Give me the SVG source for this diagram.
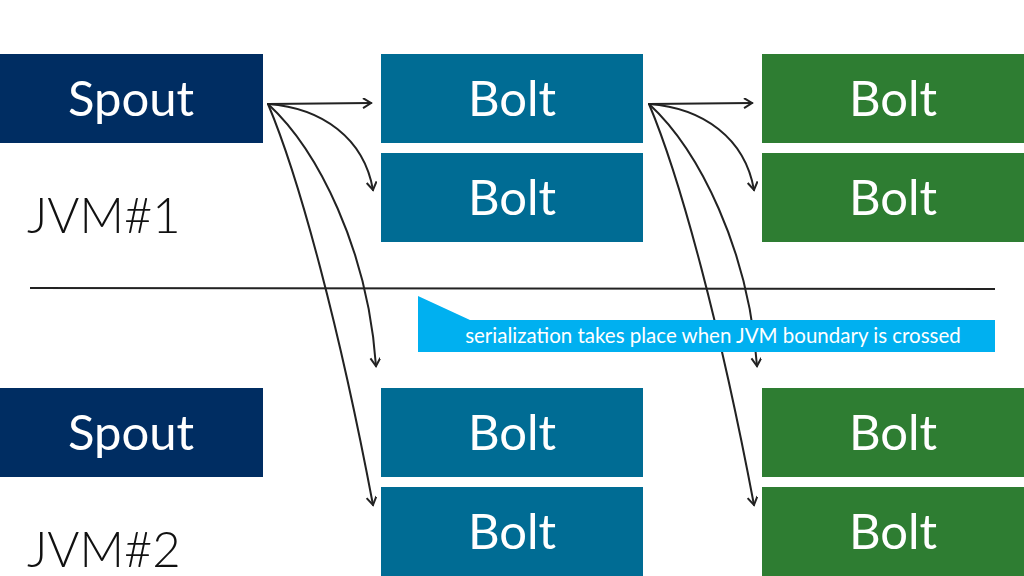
<svg xmlns="http://www.w3.org/2000/svg" width="1024" height="576" viewBox="0 0 1024 576">
<style>
.spout{fill:#002D62}
.bolt1{fill:#006C94}
.bolt2{fill:#2E7D32}
.lbl{font-family:Lato,"Liberation Sans",sans-serif;font-size:49px;fill:#fff;text-anchor:middle}
.jvm{font-family:Lato,"Liberation Sans",sans-serif;font-weight:300;font-size:49px;fill:#111}
.c{fill:none;stroke:#222;stroke-width:2;stroke-linecap:round}
</style>
<defs>
<marker id="ah" markerWidth="12" markerHeight="12" refX="9" refY="5" orient="auto" markerUnits="userSpaceOnUse">
<path d="M1,0 L9,5 L1,10" fill="none" stroke="#222" stroke-width="2"/>
</marker>
</defs>
<rect width="1024" height="576" fill="#fff"/>
<g id="spout1"><rect class="spout" x="0" y="54" width="263" height="89"/><text class="lbl" x="131" y="116">Spout</text></g>
<g id="spout2"><rect class="spout" x="0" y="388" width="263" height="89"/><text class="lbl" x="131" y="450">Spout</text></g>
<g id="bolt-a1"><rect class="bolt1" x="381" y="54" width="262" height="89"/><text class="lbl" x="512" y="116">Bolt</text></g>
<g id="bolt-a2"><rect class="bolt1" x="381" y="153" width="262" height="89"/><text class="lbl" x="512" y="215">Bolt</text></g>
<g id="bolt-a3"><rect class="bolt1" x="381" y="388" width="262" height="89"/><text class="lbl" x="512" y="450">Bolt</text></g>
<g id="bolt-a4"><rect class="bolt1" x="381" y="487" width="262" height="89"/><text class="lbl" x="512" y="549">Bolt</text></g>
<g id="bolt-b1"><rect class="bolt2" x="762" y="54" width="262" height="89"/><text class="lbl" x="893" y="116">Bolt</text></g>
<g id="bolt-b2"><rect class="bolt2" x="762" y="153" width="262" height="89"/><text class="lbl" x="893" y="215">Bolt</text></g>
<g id="bolt-b3"><rect class="bolt2" x="762" y="388" width="262" height="89"/><text class="lbl" x="893" y="450">Bolt</text></g>
<g id="bolt-b4"><rect class="bolt2" x="762" y="487" width="262" height="89"/><text class="lbl" x="893" y="549">Bolt</text></g>
<g id="jvm1"><text class="jvm" x="27" y="233">JVM#1</text></g>
<g id="jvm2"><text class="jvm" x="27" y="567">JVM#2</text></g>
<g id="boundary"><path d="M30,288 L995,289" stroke="#222" stroke-width="2" fill="none"/></g>
<g id="connectors">
<path class="c" d="M268,104 L371,103" marker-end="url(#ah)"/>
<path class="c" d="M268,104 C322,108 364,138 373,190" marker-end="url(#ah)"/>
<path class="c" d="M268,104 C318,150 368,250 376,366" marker-end="url(#ah)"/>
<path class="c" d="M268,104 C300,180 340,330 373,505" marker-end="url(#ah)"/>
<path class="c" d="M649,104 L752,103" marker-end="url(#ah)"/>
<path class="c" d="M649,104 C703,108 745,138 754,190" marker-end="url(#ah)"/>
<path class="c" d="M649,104 C699,150 749,250 757,366" marker-end="url(#ah)"/>
<path class="c" d="M649,104 C681,180 721,330 754,505" marker-end="url(#ah)"/>
</g>
<g id="callout">
<path d="M418,296 L470,320 L995,320 L995,352 L418,352 Z" fill="#00B0F0"/>
<text x="713" y="343" font-family="Lato,'Liberation Sans',sans-serif" font-size="20.5" fill="#fff" text-anchor="middle">serialization takes place when JVM boundary is crossed</text>
</g>
</svg>
